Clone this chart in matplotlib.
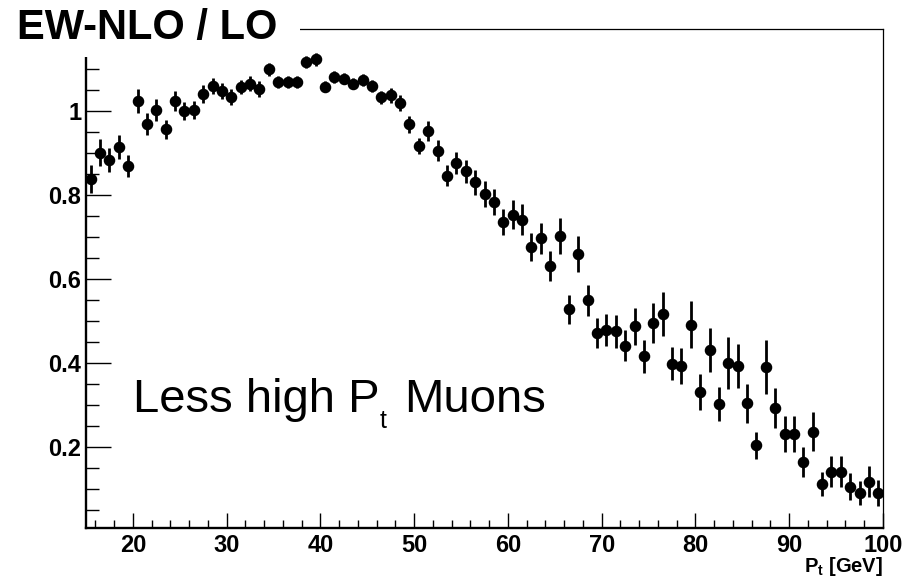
import matplotlib
matplotlib.use("Agg")
import matplotlib.pyplot as plt
from matplotlib.patches import Rectangle
from matplotlib.ticker import MultipleLocator, FuncFormatter
from matplotlib.transforms import offset_copy
import numpy as np

plt.rcParams['font.family'] = ['Liberation Sans', 'DejaVu Sans']

# bin centres (1 GeV bins from 15 to 100)
pt = np.arange(15.5, 100.0, 1.0)

ratio = [0.837, 0.900, 0.883, 0.914, 0.868, 1.023, 0.968, 1.003, 0.956, 1.023,
         0.999, 1.002, 1.040, 1.060, 1.048, 1.033, 1.056, 1.065, 1.053, 1.099,
         1.069, 1.069, 1.069, 1.117, 1.123, 1.057, 1.080, 1.077, 1.065, 1.073,
         1.060, 1.032, 1.037, 1.019, 0.968, 0.916, 0.952, 0.905, 0.845, 0.876,
         0.856, 0.830, 0.802, 0.784, 0.736, 0.753, 0.741, 0.676, 0.696, 0.630,
         0.702, 0.527, 0.659, 0.549, 0.470, 0.478, 0.475, 0.440, 0.487, 0.415,
         0.495, 0.516, 0.398, 0.392, 0.490, 0.330, 0.430, 0.301, 0.399, 0.392,
         0.303, 0.203, 0.390, 0.292, 0.230, 0.230, 0.164, 0.236, 0.111, 0.140,
         0.140, 0.105, 0.090, 0.117, 0.090]

err = [0.033, 0.032, 0.029, 0.028, 0.026, 0.029, 0.026, 0.026, 0.023, 0.024,
       0.021, 0.021, 0.021, 0.019, 0.019, 0.018, 0.017, 0.017, 0.019, 0.016,
       0.014, 0.014, 0.014, 0.014, 0.015, 0.013, 0.014, 0.014, 0.014, 0.014,
       0.014, 0.016, 0.018, 0.019, 0.020, 0.019, 0.023, 0.025, 0.025, 0.027,
       0.028, 0.030, 0.031, 0.031, 0.031, 0.035, 0.036, 0.034, 0.038, 0.036,
       0.043, 0.034, 0.044, 0.037, 0.036, 0.039, 0.039, 0.037, 0.044, 0.040,
       0.047, 0.052, 0.040, 0.043, 0.056, 0.042, 0.053, 0.040, 0.062, 0.053,
       0.047, 0.033, 0.065, 0.048, 0.042, 0.042, 0.036, 0.047, 0.029, 0.037,
       0.037, 0.032, 0.029, 0.036, 0.031]

x_ticks = [20, 30, 40, 50, 60, 70, 80, 90, 100]
y_ticks = [0.2, 0.4, 0.6, 0.8, 1.0]

W, H = 921, 579
fig = plt.figure(figsize=(W / 100, H / 100), dpi=100)
ax = fig.add_axes([86 / W, 1 - 527.7 / H, (883 - 86) / W, (527.7 - 29) / H])

ax.errorbar(pt, ratio, yerr=err, fmt='o', color='black', ms=7.3,
            elinewidth=2.0, capsize=0, zorder=3)

ax.set_xlim(15, 100)
ax.set_ylim(0.007, 1.195)

ax.xaxis.set_major_locator(plt.FixedLocator(x_ticks))
ax.xaxis.set_minor_locator(MultipleLocator(2))
ax.yaxis.set_major_locator(plt.FixedLocator(y_ticks))
ax.yaxis.set_minor_locator(MultipleLocator(0.05))
ax.yaxis.set_major_formatter(FuncFormatter(lambda v, p: '%g' % v))

ax.tick_params(axis='x', which='major', direction='in', length=10.8, width=1.0,
               top=False, pad=4.5, labelsize=17)
ax.tick_params(axis='x', which='minor', direction='in', length=5.8, width=1.0, top=False)
ax.tick_params(axis='y', which='major', direction='in', length=17.8, width=1.0,
               right=False, pad=3.5, labelsize=17)
ax.tick_params(axis='y', which='minor', direction='in', length=9.4, width=1.0, right=False)
for lab in ax.get_xticklabels() + ax.get_yticklabels():
    lab.set_fontweight('bold')

for s in ['left', 'bottom']:
    ax.spines[s].set_linewidth(1.7)
for s in ['top', 'right']:
    ax.spines[s].set_linewidth(0.9)

# annotation "Less high P_t Muons" built from pieces (ROOT-like subscript spacing)
ax.text(20, 0.283, 'Less high P', fontsize=34, ha='left', va='baseline')
ax.text(20, 0.283, 't', fontsize=18, ha='left', va='baseline',
        transform=offset_copy(ax.transData, fig=fig, x=247, y=-16, units='dots'))
ax.text(20, 0.283, 'Muons', fontsize=34, ha='left', va='baseline',
        transform=offset_copy(ax.transData, fig=fig, x=271, y=0, units='dots'))

# x-axis title "P_t [GeV]"
fig.text(883 / W, 1 - 572 / H, r'P$_\mathregular{t}$ [GeV]', fontsize=14.5,
         fontweight='bold', ha='right', va='baseline')

# title pave (white box hiding frame corner)
fig.add_artist(Rectangle((0, 1 - 57 / H), 300 / W, 57 / H, transform=fig.transFigure,
                         facecolor='white', edgecolor='none', zorder=5))
fig.text(17 / W, 1 - 39 / H, 'EW-NLO / LO', fontsize=30, fontweight='bold',
         ha='left', va='baseline', zorder=6)

fig.savefig('out.png', dpi=100)
